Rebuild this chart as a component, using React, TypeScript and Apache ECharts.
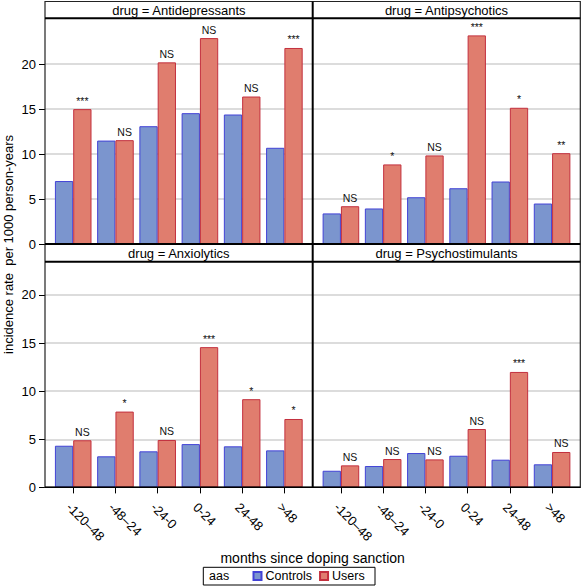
import React, { useEffect, useRef } from 'react';
import * as echarts from 'echarts';

const categories = ['-120\u201348', '-48\u201324', '-24-0', '0-24', '24-48', '>48'];
const categoryIndex = [0, 1, 2, 3, 4, 5];
const drugs = ['Antidepressants', 'Antipsychotics', 'Anxiolytics', 'Psychostimulants'];
const groups = ['Controls', 'Users'];
const yTicks = [0, 5, 10, 15, 20];

const antidepControls = [7.0, 11.5, 13.1, 14.55, 14.4, 10.7];
const antidepUsers = [15.0, 11.55, 20.2, 22.9, 16.4, 21.8];
const antidepSig = ['***', 'NS', 'NS', 'NS', 'NS', '***'];

const antipsyControls = [3.4, 3.95, 5.2, 6.2, 6.95, 4.5];
const antipsyUsers = [4.2, 8.85, 9.85, 23.2, 15.15, 10.1];
const antipsySig = ['NS', '*', 'NS', '***', '*', '**'];

const anxioControls = [4.33, 3.23, 3.75, 4.5, 4.27, 3.85];
const anxioUsers = [4.9, 7.88, 4.93, 14.58, 9.17, 7.11];
const anxioSig = ['NS', '*', 'NS', '***', '*', '*'];

const psychoControls = [1.73, 2.22, 3.57, 3.29, 2.88, 2.4];
const psychoUsers = [2.29, 2.95, 2.91, 6.07, 12.0, 3.68];
const psychoSig = ['NS', 'NS', 'NS', 'NS', '***', 'NS'];

export default function App() {
  const ref = useRef<HTMLDivElement>(null);

  useEffect(() => {
    const chart = echarts.init(ref.current!, null, { renderer: 'svg' });
    const font = '"Liberation Sans", Arial, Helvetica, sans-serif';
    const colLeft = [45, 312.7];
    const colWidth = 267.6;
    const rowTop = [18.3, 261.7];
    const rowHeight = 225.7;
    const rowMax = [25.1, 23.46];
    const blue = { color: '#7B95CE', borderColor: '#4242D6', borderWidth: 1 };
    const red = { color: '#E07D6E', borderColor: '#C3303E', borderWidth: 1 };

    const panels = [
      { name: drugs[0], controls: antidepControls, users: antidepUsers, sig: antidepSig, row: 0, col: 0 },
      { name: drugs[1], controls: antipsyControls, users: antipsyUsers, sig: antipsySig, row: 0, col: 1 },
      { name: drugs[2], controls: anxioControls, users: anxioUsers, sig: anxioSig, row: 1, col: 0 },
      { name: drugs[3], controls: psychoControls, users: psychoUsers, sig: psychoSig, row: 1, col: 1 },
    ];

    const grid = panels.map((p) => ({
      left: colLeft[p.col],
      top: rowTop[p.row],
      width: colWidth,
      height: rowHeight,
    }));

    const xAxis = panels.map((p, i) => ({
      type: 'value',
      gridIndex: i,
      position: 'bottom',
      min: -0.668,
      max: 5.668,
      splitLine: { show: false },
      axisLine: { show: false, onZero: false },
      axisTick: {
        show: p.row === 1,
        customValues: categoryIndex,
        length: 6,
        lineStyle: { color: '#000', width: 1 },
      },
      axisLabel: {
        show: p.row === 1,
        customValues: categoryIndex,
        formatter: (v: number) => categories[Math.round(v)] ?? '',
        rotate: -45,
        verticalAlign: 'top',
        margin: 13,
        fontSize: 13,
        fontFamily: font,
        color: '#000',
      },
    }));

    const yAxis = panels.map((p, i) => ({
      type: 'value',
      gridIndex: i,
      position: 'left',
      min: 0,
      max: rowMax[p.row],
      interval: 5,
      axisLine: { show: false, onZero: false },
      axisTick: {
        show: p.col === 0,
        customValues: yTicks,
        length: 6,
        lineStyle: { color: '#000', width: 1 },
      },
      axisLabel: {
        show: p.col === 0,
        customValues: yTicks,
        margin: 9,
        fontSize: 13,
        fontFamily: font,
        color: '#000',
      },
      splitLine: { show: false },
    }));

    const series: any[] = [];
    panels.forEach((p, i) => {
      series.push({
        type: 'bar',
        name: groups[0],
        xAxisIndex: i,
        yAxisIndex: i,
        z: 10,
        barWidth: 18.3,
        barGap: '0%',
        itemStyle: blue,
        data: p.controls.map((v, k) => [categoryIndex[k], v]),
        markLine: {
          silent: true,
          symbol: ['none', 'none'],
          label: { show: false },
          lineStyle: { color: '#D0D0D0', width: 1.5, type: 'solid' },
          data: yTicks.filter((t) => t > 0).map((t) => ({ yAxis: t })),
        },
      });
      series.push({
        type: 'bar',
        name: groups[1],
        xAxisIndex: i,
        yAxisIndex: i,
        z: 10,
        barWidth: 18.3,
        barGap: '0%',
        itemStyle: red,
        label: {
          show: true,
          position: 'top',
          distance: 3,
          fontSize: 10.5,
          fontFamily: font,
          color: '#111',
          formatter: (prm: any) => p.sig[prm.dataIndex],
        },
        data: p.users.map((v, k) => [categoryIndex[k], v]),
      });
    });

    const L = 45;
    const R = 580.3;
    const T = 1.5;
    const B = 487.3;
    const mid = 312.7;
    const line = (x1: number, y1: number, x2: number, y2: number, w: number) => ({
      type: 'line',
      z: 100,
      shape: { x1, y1, x2, y2 },
      style: { stroke: '#000', lineWidth: w },
    });
    const headerText = (text: string, cx: number, cy: number) => ({
      type: 'text',
      z: 100,
      x: cx,
      y: cy,
      style: {
        text,
        align: 'center',
        verticalAlign: 'middle',
        fontSize: 13,
        fontFamily: font,
        fill: '#000',
      },
    });

    const graphic: any[] = [
      {
        type: 'rect',
        z: 99,
        shape: { x: L, y: T, width: R - L, height: B - T },
        style: { fill: 'none', stroke: '#222', lineWidth: 1.2 },
      },
      line(L, 18.3, R, 18.3, 2),
      line(L, 244, R, 244, 2),
      line(L, 261.7, R, 261.7, 2),
      line(L, B, R, B, 1.5),
      line(mid, T, mid, B, 2),
      headerText('drug = ' + drugs[0], (L + mid) / 2, 10.3),
      headerText('drug = ' + drugs[1], (mid + R) / 2, 10.3),
      headerText('drug = ' + drugs[2], (L + mid) / 2, 253.2),
      headerText('drug = ' + drugs[3], (mid + R) / 2, 253.2),
      {
        type: 'text',
        x: 8,
        y: 244.5,
        rotation: Math.PI / 2,
        style: {
          text: 'incidence rate\u00a0 per 1000 person-years',
          align: 'center',
          verticalAlign: 'middle',
          fontSize: 13,
          fontFamily: font,
          fill: '#000',
        },
      },
      {
        type: 'text',
        x: (L + R) / 2,
        y: 558,
        style: {
          text: 'months since doping sanction',
          align: 'center',
          verticalAlign: 'middle',
          fontSize: 14,
          fontFamily: font,
          fill: '#000',
        },
      },
      {
        type: 'rect',
        z: 0,
        shape: { x: 203.3, y: 567.3, width: 171.7, height: 17.7 },
        style: { fill: '#fff', stroke: '#000', lineWidth: 1 },
      },
      {
        type: 'text',
        z: 1,
        x: 209,
        y: 576.3,
        style: {
          text: 'aas',
          align: 'left',
          verticalAlign: 'middle',
          fontSize: 12.5,
          fontFamily: font,
          fill: '#000',
        },
      },
    ];

    chart.setOption({
      animation: false,
      backgroundColor: '#fff',
      grid,
      xAxis,
      yAxis,
      series,
      graphic,
      legend: {
        data: groups,
        left: 252.5,
        top: 569.5,
        icon: 'rect',
        itemWidth: 8,
        itemHeight: 8,
        itemGap: 7,
        padding: 0,
        z: 10,
        textStyle: { fontSize: 12.5, fontFamily: font, color: '#000', padding: [0, 0, 0, -1] },
      },
    });

    return () => chart.dispose();
  }, []);

  return (
    <div
      ref={ref}
      style={{ position: 'fixed', left: 0, top: 0, width: 583, height: 587, background: '#fff' }}
    />
  );
}
